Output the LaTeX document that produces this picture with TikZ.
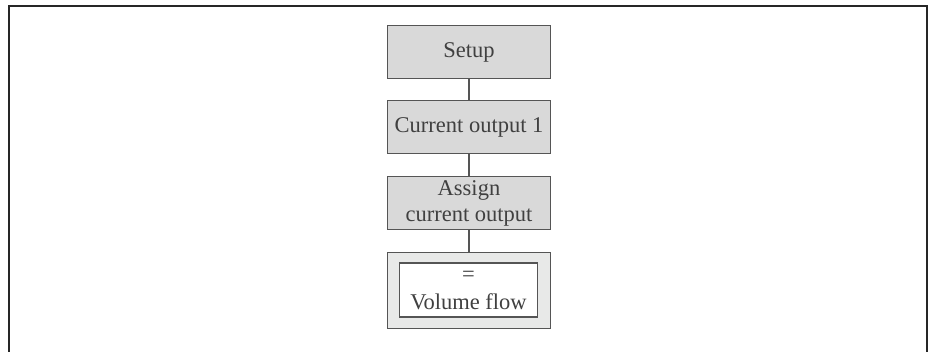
\documentclass[tikz,border=0pt]{standalone}
\usepackage{fontspec}
\setmainfont{Liberation Serif}
\definecolor{boxfill}{HTML}{D9D9D9}
\definecolor{valfill}{HTML}{E8E9E8}
\definecolor{edge}{HTML}{555555}
\definecolor{ink}{HTML}{404040}
\begin{document}
\begin{tikzpicture}[x=1pt,y=-1pt,
  menubox/.style={draw=edge, line width=1.2pt, fill=boxfill, minimum width=163pt,
    minimum height=53pt, inner sep=0pt, align=center, text=ink,
    font=\fontsize{22.5}{26}\selectfont},
  valbox/.style={draw=edge, line width=1.5pt, fill=valfill, minimum width=163pt,
    minimum height=76pt, inner sep=0pt},
  valinner/.style={draw=edge, line width=1.5pt, fill=white, minimum width=138pt,
    minimum height=54pt, inner sep=0pt, align=center, text=ink,
    font=\fontsize{22.5}{28}\selectfont},
  link/.style={draw=edge, line width=1.2pt}]
\useasboundingbox (0,0) rectangle (936,351);
% open frame around the menu path
\draw[line width=2pt, black!85] (9,360) -- (9,5.5) -- (927,5.5) -- (927,360);

\node[menubox] (setup) at (469,52.2) {Setup};
\node[menubox] (cur) at (469,127.2) {Current output 1};
\node[menubox] (assign) at (469,203.3) {Assign\\current output};
\node[valbox] (val) at (469,290.3) {};
\node[valinner] (valin) at (468.5,290.2) {=\\Volume flow};

\draw[link] (setup.south) -- (cur.north);
\draw[link] (cur.south) -- (assign.north);
\draw[link] (assign.south) -- (val.north);
\end{tikzpicture}
\end{document}
